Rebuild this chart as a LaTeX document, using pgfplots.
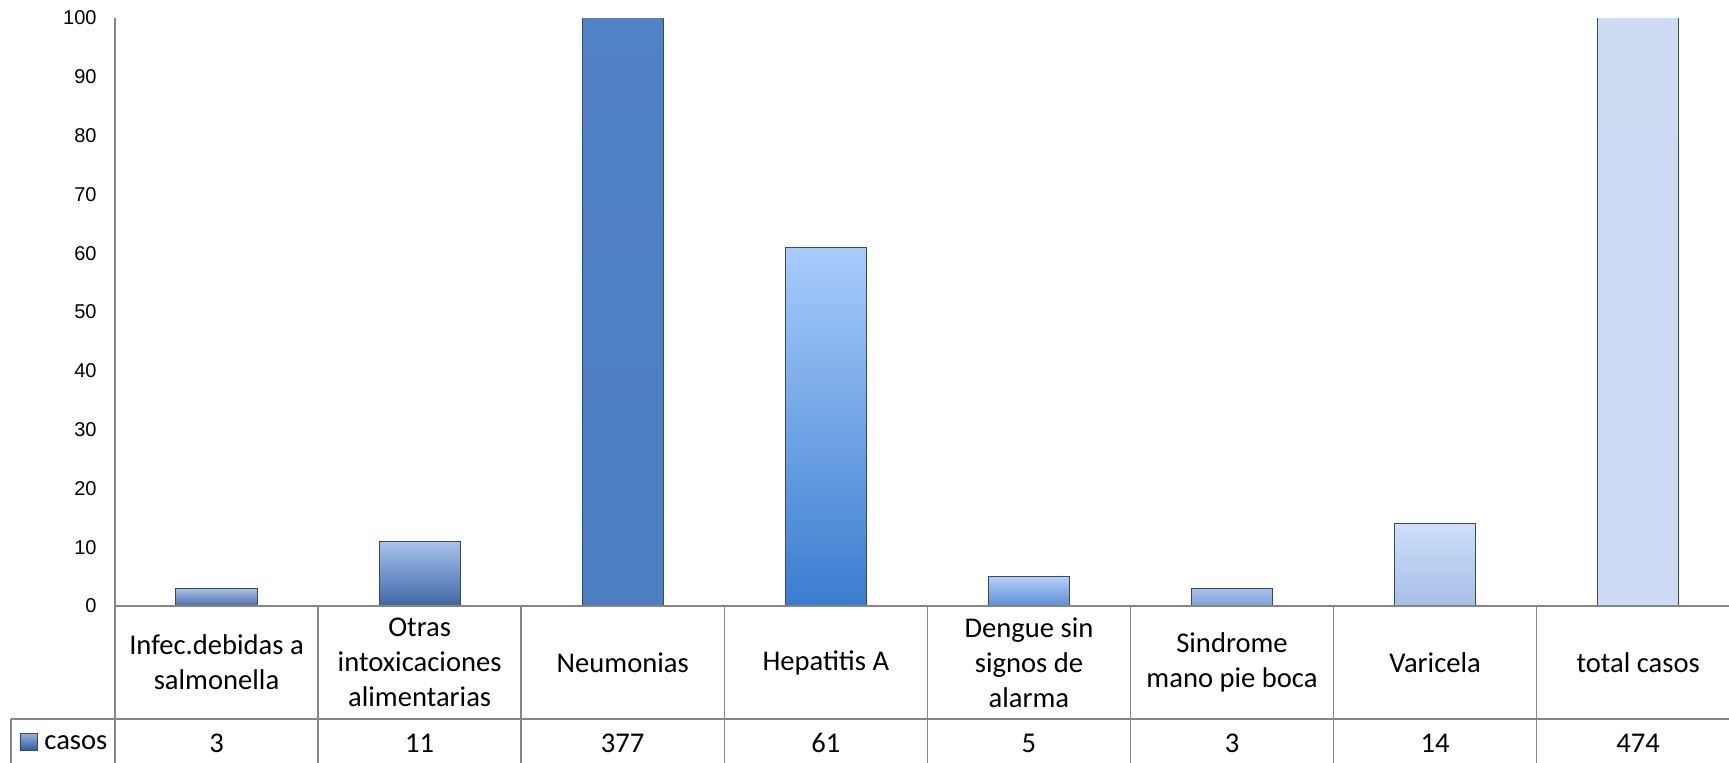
\documentclass[border=0pt]{standalone}
\usepackage{pgfplots}
\pgfplotsset{compat=1.18}
\usepackage{fontspec}
\setmainfont{Carlito}
\newfontfamily\arialf{Liberation Sans}
\definecolor{gridc}{RGB}{134,134,134}
\definecolor{edgec}{RGB}{55,75,105}
\begin{document}
\begin{tikzpicture}[x=1pt,y=1pt]
\useasboundingbox (-57.5,-78) rectangle (807,303);
\begin{axis}[
  at={(0,0)}, anchor=south west,
  scale only axis, width=807pt, height=294pt,
  xmin=-0.5, xmax=7.447, ymin=0, ymax=100,
  axis line style={draw=none},
  ytick={0,10,...,100},
  major tick length=0pt,
  tick style={draw=none},
  /pgf/number format/assume math mode=true,
  yticklabel style={font=\arialf\fontsize{10}{12}\selectfont, anchor=east, inner sep=0pt, xshift=-9pt},
  xtick={0,...,7},
  xticklabels={{Infec.debidas a\\salmonella},{Otras\\intoxicaciones\\alimentarias},{Neumonias},{Hepatitis A},{Dengue sin\\signos de\\alarma},{Sindrome\\mano pie boca},{Varicela},{total casos}},
  xticklabel style={font=\fontsize{14.3}{17.5}\selectfont, anchor=center, yshift=-28.25pt, text width=98pt, align=flush center, inner sep=0pt},
  extra x ticks={0,...,7},
  extra x tick labels={3,11,377,61,5,3,14,474},
  extra x tick style={tick label style={yshift=-40.25pt}},
  clip=true,
]
\addplot[ybar, bar width=0.4, bar shift=0pt, top color={rgb,255:red,170;green,192;blue,230}, bottom color={rgb,255:red,78;green,110;blue,168}, draw=edgec, line width=0.5pt] coordinates {(0,3)};
\addplot[ybar, bar width=0.4, bar shift=0pt, top color={rgb,255:red,168;green,194;blue,236}, bottom color={rgb,255:red,62;green,102;blue,166}, draw=edgec, line width=0.5pt] coordinates {(1,11)};
\addplot[ybar, bar width=0.4, bar shift=0pt, top color={rgb,255:red,92;green,140;blue,208}, bottom color={rgb,255:red,76;green,126;blue,194}, draw=edgec, line width=0.5pt] coordinates {(2,377)};
\addplot[ybar, bar width=0.4, bar shift=0pt, top color={rgb,255:red,168;green,204;blue,252}, bottom color={rgb,255:red,58;green,124;blue,207}, draw=edgec, line width=0.5pt] coordinates {(3,61)};
\addplot[ybar, bar width=0.4, bar shift=0pt, top color={rgb,255:red,180;green,208;blue,248}, bottom color={rgb,255:red,91;green,143;blue,216}, draw=edgec, line width=0.5pt] coordinates {(4,5)};
\addplot[ybar, bar width=0.4, bar shift=0pt, top color={rgb,255:red,170;green,194;blue,236}, bottom color={rgb,255:red,124;green,160;blue,216}, draw=edgec, line width=0.5pt] coordinates {(5,3)};
\addplot[ybar, bar width=0.4, bar shift=0pt, top color={rgb,255:red,204;green,222;blue,250}, bottom color={rgb,255:red,166;green,191;blue,230}, draw=edgec, line width=0.5pt] coordinates {(6,14)};
\addplot[ybar, bar width=0.4, bar shift=0pt, top color={rgb,255:red,208;green,221;blue,245}, bottom color={rgb,255:red,204;green,218;blue,243}, draw=edgec, line width=0.5pt] coordinates {(7,474)};
\end{axis}
% axis line and data table grid (axis lower-left at origin, 0.5pt per px)
\draw[gridc, line width=0.75pt] (0,294) -- (0,-56.5);
\draw[gridc, line width=0.75pt] (0,0) -- (807,0);
\draw[gridc, line width=0.75pt] (-52,-56.5) -- (807,-56.5);
\draw[gridc, line width=0.75pt] (-52,-56.5) -- (-52,-80);
\draw[gridc, line width=0.75pt] (0,-56.5) -- (0,-80);
\foreach \k in {1,...,7} {
  \draw[gridc, line width=0.75pt] ({101.55*\k},0) -- ({101.55*\k},-80);
}
\shade[top color={rgb,255:red,150;green,180;blue,225}, bottom color={rgb,255:red,50;green,90;blue,160}, draw=edgec, line width=0.3pt] (-47.5,-72) rectangle (-39,-63.5);
\node[anchor=west, inner sep=0pt, font=\fontsize{14.3}{17.5}\selectfont] at (-35.5,-68.5) {casos};
\end{tikzpicture}
\end{document}
